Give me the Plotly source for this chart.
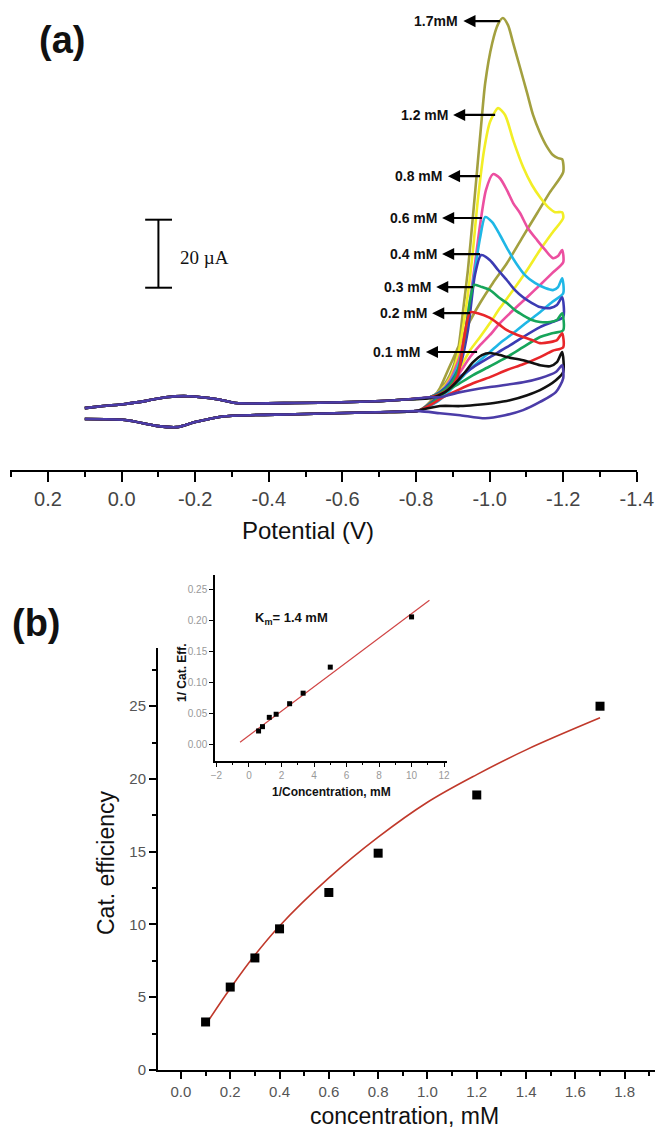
import plotly.graph_objects as go

W, H = 655, 1132
SANS = "Liberation Sans, Arial, sans-serif"
SERIF = "Liberation Serif, Times New Roman, serif"

# ---------------- Panel (a): cyclic voltammograms ----------------
POT_TICKS = [0.2, 0.0, -0.2, -0.4, -0.6, -0.8, -1.0, -1.2, -1.4]
POT_TICK_TEXT = ["0.2", "0.0", "-0.2", "-0.4", "-0.6", "-0.8", "-1.0", "-1.2", "-1.4"]
POT_MINOR = [0.3, 0.1, -0.1, -0.3, -0.5, -0.7, -0.9, -1.1, -1.3]

# shared non-catalytic parts (forward / return), potential V, current uA
BASE_FWD_V = [0.10, 0.05, -0.01, -0.07, -0.12, -0.18, -0.26, -0.31, -0.47, -0.69, -0.78]
BASE_FWD_I = [0.6, 1.2, 1.8, 2.8, 3.8, 4.1, 3.2, 2.1, 2.1, 2.6, 3.2]
BASE_REV_V = [-0.80, -0.69, -0.47, -0.28, -0.20, -0.15, -0.10, -0.01, 0.10]
BASE_REV_I = [-0.3, -0.6, -1.2, -1.8, -3.5, -5.0, -4.7, -2.9, -2.6]

FWD_V_17 = [-0.838, -0.865, -0.892, -0.914, -0.928, -0.941, -0.955, -0.966, -0.977, -0.988, -1.007, -1.023, -1.036, -1.050, -1.064, -1.083, -1.102, -1.118, -1.137, -1.156, -1.172, -1.186, -1.197]
FWD_I_17 = [3.8, 5.9, 10.3, 17.6, 29.4, 41.2, 57.4, 70.6, 83.8, 96.2, 107.9, 113.5, 115.3, 113.2, 107.9, 100.6, 93.2, 86.8, 81.5, 77.4, 75.0, 74.1, 73.8]
REV_V_17 = [-1.200, -1.164, -1.129, -1.088, -1.047, -1.009, -0.974, -0.941, -0.911, -0.887, -0.865, -0.838, -0.811]
REV_I_17 = [70.0, 64.1, 57.9, 50.6, 43.2, 37.4, 31.5, 25.0, 17.6, 11.8, 6.5, 2.4, 0.0]

FWD_V_12 = [-0.838, -0.865, -0.892, -0.914, -0.933, -0.952, -0.968, -0.985, -1.001, -1.023, -1.042, -1.064, -1.091, -1.115, -1.137, -1.159, -1.178, -1.197]
FWD_I_12 = [3.8, 5.6, 9.4, 16.2, 27.9, 44.1, 61.8, 76.5, 84.7, 88.8, 86.8, 79.4, 71.5, 66.2, 62.6, 59.7, 58.2, 58.2]
REV_V_12 = [-1.200, -1.170, -1.137, -1.102, -1.064, -1.028, -1.001, -0.974, -0.947, -0.920, -0.892, -0.865, -0.838, -0.811]
REV_I_12 = [56.5, 52.1, 47.1, 41.2, 35.3, 30.0, 25.6, 21.5, 17.6, 12.4, 7.4, 3.8, 1.5, 0.0]

FWD_V_08 = [-0.838, -0.865, -0.892, -0.920, -0.939, -0.958, -0.974, -0.990, -1.009, -1.028, -1.047, -1.064, -1.083, -1.104, -1.129, -1.151, -1.172, -1.186, -1.197]
FWD_I_08 = [3.8, 5.3, 8.8, 16.2, 26.5, 41.2, 54.4, 64.7, 69.4, 68.2, 64.7, 60.9, 57.9, 53.5, 50.0, 47.1, 44.7, 45.3, 47.1]
REV_V_08 = [-1.200, -1.170, -1.137, -1.102, -1.064, -1.028, -1.001, -0.974, -0.947, -0.920, -0.892, -0.865, -0.838, -0.811]
REV_I_08 = [43.5, 40.3, 36.8, 33.2, 29.4, 25.6, 22.1, 19.1, 15.6, 11.2, 6.8, 3.5, 1.2, 0.0]

FWD_V_06 = [-0.838, -0.865, -0.892, -0.920, -0.941, -0.960, -0.974, -0.988, -1.007, -1.028, -1.050, -1.072, -1.096, -1.123, -1.151, -1.172, -1.186, -1.197]
FWD_I_06 = [3.8, 5.3, 8.2, 14.7, 26.5, 41.2, 50.6, 56.8, 55.3, 51.5, 47.1, 43.2, 39.7, 37.4, 35.9, 35.3, 36.2, 38.8]
REV_V_06 = [-1.200, -1.170, -1.137, -1.102, -1.064, -1.028, -1.001, -0.968, -0.936, -0.906, -0.879, -0.852, -0.811]
REV_I_06 = [34.4, 31.8, 28.8, 25.9, 22.6, 19.7, 17.1, 14.1, 10.9, 7.4, 4.4, 2.1, 0.0]

FWD_V_04 = [-0.838, -0.865, -0.892, -0.920, -0.941, -0.960, -0.977, -1.001, -1.023, -1.047, -1.069, -1.091, -1.115, -1.137, -1.164, -1.183, -1.197]
FWD_I_04 = [3.8, 5.3, 7.9, 13.2, 23.5, 39.7, 45.6, 44.1, 41.2, 38.2, 35.3, 33.2, 31.5, 30.3, 30.0, 30.9, 33.2]
REV_V_04 = [-1.200, -1.170, -1.137, -1.091, -1.047, -1.001, -0.955, -0.914, -0.879, -0.843, -0.811]
REV_I_04 = [27.4, 25.9, 24.4, 21.5, 18.5, 15.6, 12.6, 9.4, 5.9, 2.4, 0.0]

FWD_V_03 = [-0.838, -0.865, -0.892, -0.914, -0.933, -0.947, -0.958, -0.979, -1.001, -1.028, -1.047, -1.069, -1.091, -1.115, -1.137, -1.164, -1.183, -1.197]
FWD_I_03 = [3.8, 5.0, 7.4, 11.8, 22.1, 32.4, 36.8, 36.2, 35.3, 32.9, 31.5, 29.4, 27.9, 26.5, 25.9, 25.9, 26.5, 28.5]
REV_V_03 = [-1.200, -1.170, -1.137, -1.091, -1.047, -1.001, -0.955, -0.914, -0.879, -0.843, -0.811]
REV_I_03 = [23.5, 22.6, 21.5, 18.5, 15.6, 12.9, 10.3, 7.6, 5.3, 2.1, 0.0]

FWD_V_02 = [-0.838, -0.865, -0.892, -0.914, -0.930, -0.947, -0.968, -1.001, -1.028, -1.047, -1.069, -1.091, -1.115, -1.137, -1.164, -1.183, -1.197]
FWD_I_02 = [3.8, 4.7, 6.5, 10.3, 20.6, 28.8, 28.5, 27.1, 25.0, 23.5, 22.4, 21.5, 20.6, 19.7, 20.0, 20.6, 22.6]
REV_V_02 = [-1.200, -1.170, -1.137, -1.091, -1.047, -1.001, -0.955, -0.914, -0.879, -0.843, -0.811]
REV_I_02 = [18.5, 17.4, 15.6, 13.5, 11.8, 9.7, 7.9, 5.9, 4.1, 1.8, 0.0]

FWD_V_01 = [-0.838, -0.879, -0.920, -0.955, -0.979, -1.001, -1.028, -1.047, -1.091, -1.137, -1.164, -1.183, -1.197]
FWD_I_01 = [3.5, 5.3, 9.4, 14.1, 16.2, 16.8, 16.2, 15.6, 14.7, 13.2, 12.9, 14.1, 17.1]
REV_V_01 = [-1.200, -1.180, -1.137, -1.102, -1.055, -1.012, -0.960, -0.920, -0.865, -0.811]
REV_I_01 = [11.2, 8.8, 5.9, 4.4, 2.9, 2.1, 1.5, 1.2, 1.2, 0.0]

FWD_V_00 = [-0.838, -0.865, -0.920, -1.001, -1.091, -1.137, -1.180, -1.197]
FWD_I_00 = [3.8, 3.8, 5.3, 6.8, 8.2, 9.4, 11.2, 13.2]
REV_V_00 = [-1.200, -1.180, -1.137, -1.091, -1.042, -0.988, -0.920, -0.865, -0.811]
REV_I_00 = [9.4, 5.3, 2.4, 0.0, -1.5, -2.4, -1.5, -0.9, -0.3]

CV_NAMES = ["1.7 mM", "1.2 mM", "0.8 mM", "0.6 mM", "0.4 mM", "0.3 mM", "0.2 mM", "0.1 mM", "blank"]
CV_COLORS = ["#a3a03f", "#f2ee26", "#ec4fa0", "#1fb7e6", "#3b3bb3", "#17a55a", "#e8262a", "#111111", "#4b3ca8"]
CV_FWD_V = [FWD_V_17, FWD_V_12, FWD_V_08, FWD_V_06, FWD_V_04, FWD_V_03, FWD_V_02, FWD_V_01, FWD_V_00]
CV_FWD_I = [FWD_I_17, FWD_I_12, FWD_I_08, FWD_I_06, FWD_I_04, FWD_I_03, FWD_I_02, FWD_I_01, FWD_I_00]
CV_REV_V = [REV_V_17, REV_V_12, REV_V_08, REV_V_06, REV_V_04, REV_V_03, REV_V_02, REV_V_01, REV_V_00]
CV_REV_I = [REV_I_17, REV_I_12, REV_I_08, REV_I_06, REV_I_04, REV_I_03, REV_I_02, REV_I_01, REV_I_00]

# peak labels: text, text position (V, uA), arrow tail (V)
PEAK_LABELS = ["1.7mM", "1.2 mM", "0.8 mM", "0.6 mM", "0.4 mM", "0.3 mM", "0.2 mM", "0.1 mM"]
PEAK_LABEL_V = [-0.854, -0.822, -0.808, -0.792, -0.792, -0.776, -0.765, -0.748]
PEAK_ARROW_V = [-1.028, -1.015, -0.974, -0.979, -0.974, -0.955, -0.947, -0.966]
PEAK_LABEL_I = [114.4, 86.8, 68.8, 56.5, 45.9, 36.2, 28.5, 17.1]

SCALE_BAR_UA = 20

# ---------------- Panel (b): catalytic efficiency ----------------
CONC = [0.1, 0.2, 0.3, 0.4, 0.6, 0.8, 1.2, 1.7]
CAT_EFF = [3.3, 5.7, 7.7, 9.7, 12.2, 14.9, 18.9, 25.0]
FIT_CONC = [0.1, 0.2, 0.3, 0.4, 0.6, 0.8, 1.0, 1.2, 1.4, 1.7]
FIT_EFF = [3.1, 5.6, 7.9, 9.9, 13.2, 16.0, 18.4, 20.3, 22.0, 24.2]
CONC_TICKS = [0.0, 0.2, 0.4, 0.6, 0.8, 1.0, 1.2, 1.4, 1.6, 1.8]
CONC_TICK_TEXT = ["0.0", "0.2", "0.4", "0.6", "0.8", "1.0", "1.2", "1.4", "1.6", "1.8"]
EFF_TICKS = [0, 5, 10, 15, 20, 25]

# inset: double reciprocal
INV_CONC = [10.0, 5.0, 3.33, 2.5, 1.67, 1.25, 0.83, 0.59]
INV_EFF = [0.205, 0.124, 0.082, 0.065, 0.048, 0.043, 0.028, 0.021]
INV_FIT_X = [-0.55, 11.1]
INV_FIT_Y = [0.003, 0.232]
INV_X_TICKS = [-2, 0, 2, 4, 6, 8, 10, 12]
INV_Y_TICKS = [0.0, 0.05, 0.10, 0.15, 0.20, 0.25]
INV_Y_TEXT = ["0.00", "0.05", "0.10", "0.15", "0.20", "0.25"]


def px_x(p):
    return p / W


def px_y(p):
    return 1 - p / H


fig = go.Figure()

for name, col, fv, fi, rv, ri in zip(CV_NAMES, CV_COLORS, CV_FWD_V, CV_FWD_I, CV_REV_V, CV_REV_I):
    fig.add_trace(go.Scatter(
        x=BASE_FWD_V + fv + rv + BASE_REV_V,
        y=BASE_FWD_I + fi + ri + BASE_REV_I,
        mode="lines", name=name,
        line=dict(color=col, width=2.6, shape="spline", smoothing=0.7),
        xaxis="x", yaxis="y", showlegend=False,
    ))

fig.add_trace(go.Scatter(
    x=FIT_CONC, y=FIT_EFF, mode="lines",
    line=dict(color="#c0392b", width=1.6, shape="spline", smoothing=1.0),
    xaxis="x2", yaxis="y2", showlegend=False,
))
fig.add_trace(go.Scatter(
    x=CONC, y=CAT_EFF, mode="markers",
    marker=dict(symbol="square", size=9, color="black"),
    xaxis="x2", yaxis="y2", showlegend=False,
))

fig.add_trace(go.Scatter(
    x=INV_FIT_X, y=INV_FIT_Y, mode="lines",
    line=dict(color="#d04545", width=1.2),
    xaxis="x3", yaxis="y3", showlegend=False,
))
fig.add_trace(go.Scatter(
    x=INV_CONC, y=INV_EFF, mode="markers",
    marker=dict(symbol="square", size=5, color="black"),
    xaxis="x3", yaxis="y3", showlegend=False,
))

axis_common = dict(showgrid=False, zeroline=False, showline=True, linecolor="black",
                   ticks="outside", tickcolor="black", automargin=False)

fig.update_layout(
    width=W, height=H, autosize=False,
    margin=dict(l=0, r=0, t=0, b=0, pad=0),
    paper_bgcolor="white", plot_bgcolor="rgba(0,0,0,0)",
    font=dict(family=SANS, color="#222"),
    xaxis=dict(domain=[px_x(10), px_x(637)], range=[0.3033, -1.4005], anchor="y",
               tickvals=POT_TICKS, ticktext=POT_TICK_TEXT, linewidth=2, ticklen=10, tickwidth=2,
               tickfont=dict(size=20, color="#444", family=SANS),
               minor=dict(tickvals=POT_MINOR, ticks="outside", ticklen=5, tickwidth=1.5, tickcolor="black"),
               **axis_common),
    yaxis=dict(domain=[px_y(470), 1.0], range=[-17.6, 120.6], anchor="x", visible=False, automargin=False),
    xaxis2=dict(domain=[px_x(158), 1.0], range=[-0.093, 1.923], anchor="y2",
                tickvals=CONC_TICKS, ticktext=CONC_TICK_TEXT, linewidth=2, ticklen=7, tickwidth=2,
                tickfont=dict(size=15, color="#555", family=SANS),
                minor=dict(tickvals=[0.1, 0.3, 0.5, 0.7, 0.9, 1.1, 1.3, 1.5, 1.7, 1.9], ticks="outside",
                           ticklen=4, tickwidth=1.5, tickcolor="black"),
                **axis_common),
    yaxis2=dict(domain=[px_y(1070), px_y(648)], range=[0, 29], anchor="x2",
                tickvals=EFF_TICKS, linewidth=2, ticklen=7, tickwidth=2,
                tickfont=dict(size=15, color="#555", family=SANS),
                minor=dict(tickvals=[2.5, 7.5, 12.5, 17.5, 22.5, 27.5], ticks="outside",
                           ticklen=4, tickwidth=1.5, tickcolor="black"),
                **axis_common),
    xaxis3=dict(domain=[px_x(215), px_x(447)], range=[-2.09, 12.18], anchor="y3",
                tickvals=INV_X_TICKS, linewidth=1.5, ticklen=4, tickwidth=1.2,
                tickfont=dict(size=10, color="#999", family=SANS),
                minor=dict(tickvals=[-1, 1, 3, 5, 7, 9, 11], ticks="outside", ticklen=2, tickwidth=1, tickcolor="black"),
                **axis_common),
    yaxis3=dict(domain=[px_y(761), px_y(575)], range=[-0.0274, 0.2726], anchor="x3",
                tickvals=INV_Y_TICKS, ticktext=INV_Y_TEXT, linewidth=1.5, ticklen=4, tickwidth=1.2,
                tickfont=dict(size=10, color="#999", family=SANS),
                **axis_common),
)


def paper_text(text, x, y, size, angle=0, family=SANS, xanchor="center"):
    return dict(text=text, x=px_x(x), y=px_y(y), xref="paper", yref="paper",
                xanchor=xanchor, yanchor="middle", showarrow=False, textangle=angle,
                font=dict(size=size, color="#111", family=family))


ann = [
    paper_text("<b>(a)</b>", 62, 40, 38),
    paper_text("<b>(b)</b>", 36, 623, 38),
    paper_text("Potential (V)", 308, 530, 24),
    paper_text("concentration, mM", 404, 1116, 23),
    paper_text("Cat. efficiency", 106, 863, 23, angle=-90),
    paper_text("<b>1/ Cat. Eff.</b>", 182, 673, 12, angle=-90),
    paper_text("<b>1/Concentration, mM</b>", 331, 792, 12),
    paper_text("<b>K<sub>m</sub>= 1.4 mM</b>", 291, 618, 13),
    paper_text("20 \u00b5A", 178, 257, 19, family=SERIF, xanchor="left"),
]
# peak labels with arrows pointing to the text
for t, lv, av, li in zip(PEAK_LABELS, PEAK_LABEL_V, PEAK_ARROW_V, PEAK_LABEL_I):
    ann.append(dict(text="<b>" + t + "</b>", x=av, y=li, xref="x", yref="y",
                    ax=lv, ay=li, axref="x", ayref="y", showarrow=True,
                    arrowside="start", arrowhead=2, startarrowhead=2, startarrowsize=1.1,
                    arrowwidth=2.2, arrowcolor="black", startstandoff=4,
                    font=dict(size=14, color="#111", family=SANS)))
fig.update_layout(annotations=ann)

# 20 uA scale bar
bar_v = -0.10
bar_lo = 36
bar_hi = bar_lo + SCALE_BAR_UA
shape_line = dict(color="black", width=2)
fig.add_shape(type="line", xref="x", yref="y", x0=bar_v, x1=bar_v, y0=bar_lo, y1=bar_hi, line=shape_line)
fig.add_shape(type="line", xref="x", yref="y", x0=-0.064, x1=-0.137, y0=bar_lo, y1=bar_lo, line=shape_line)
fig.add_shape(type="line", xref="x", yref="y", x0=-0.064, x1=-0.137, y0=bar_hi, y1=bar_hi, line=shape_line)

fig.write_html("out.html")
